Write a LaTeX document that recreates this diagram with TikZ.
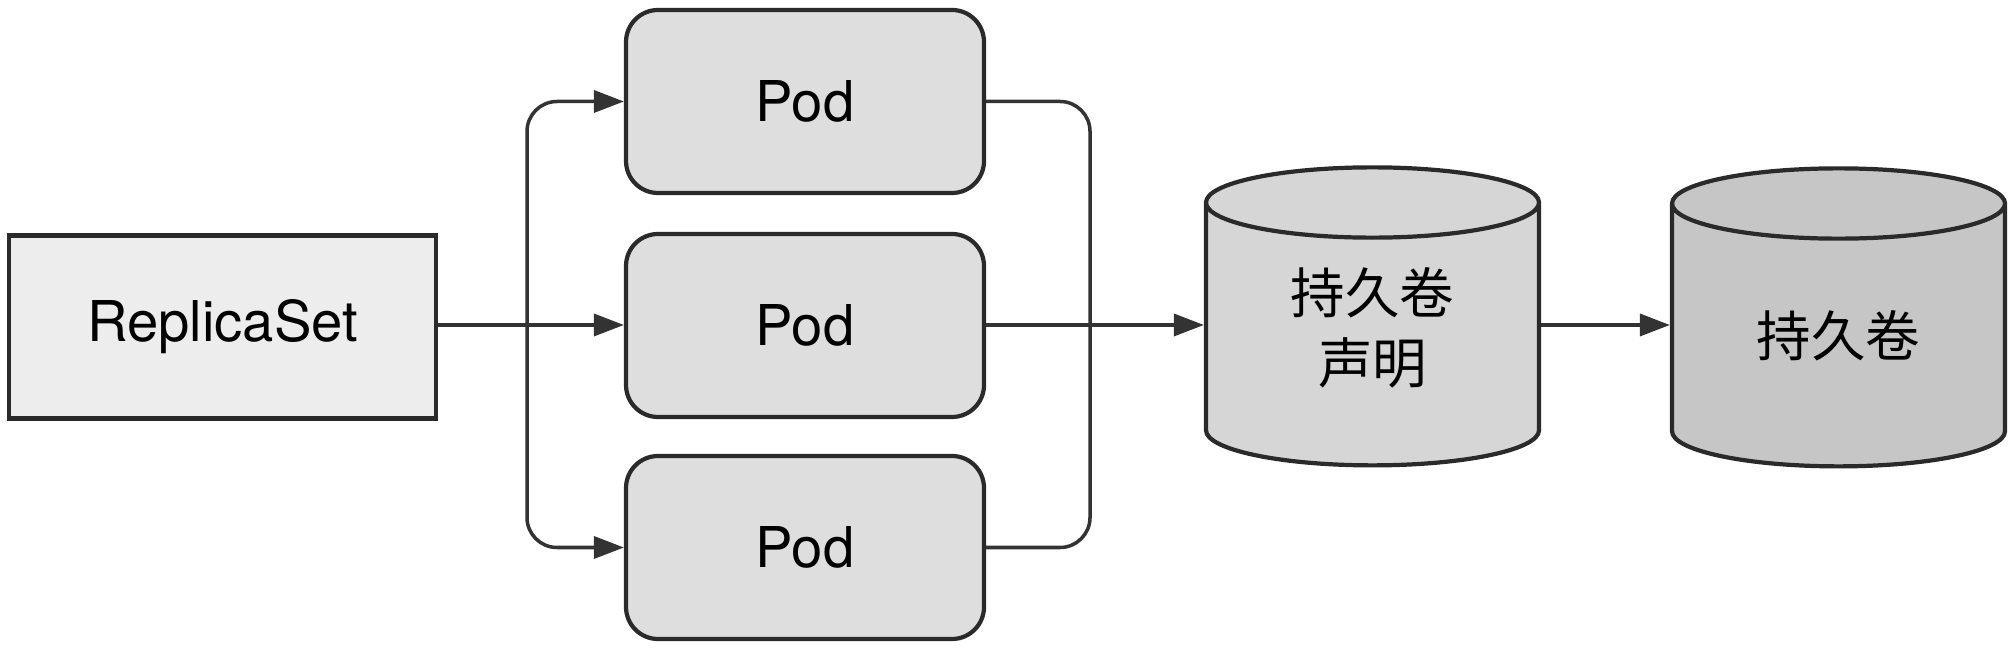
\documentclass[tikz,border=0pt]{standalone}
\usepackage{fontspec}
\setmainfont{TeX Gyre Heros}
\newfontfamily\cjk{Noto Sans CJK SC}
\usetikzlibrary{shapes.geometric,arrows.meta}

\definecolor{edgegray}{HTML}{2A2A2A}
\definecolor{linegray}{HTML}{333333}
\definecolor{rsfill}{HTML}{EDEDED}
\definecolor{podfill}{HTML}{DEDEDE}
\definecolor{pvcfill}{HTML}{D6D6D6}
\definecolor{pvfill}{HTML}{C6C6C6}

\begin{document}
\begin{tikzpicture}[
  box/.style={draw=edgegray, line width=1.2pt, minimum width=4.27cm, minimum height=1.83cm, font=\fontsize{16}{19}\selectfont},
  podbox/.style={box, fill=podfill, rounded corners=0.32cm, minimum width=3.58cm},
  vol/.style={draw=edgegray, line width=1.2pt, cylinder, shape border rotate=90, aspect=0.43, minimum width=3.33cm, minimum height=2.98cm, inner sep=0pt, font=\cjk\fontsize{15.5}{19}\selectfont},
  link/.style={draw=linegray, line width=1pt},
  tip/.style={link, -{Triangle[length=3mm,width=2.2mm]}},
]
  \useasboundingbox (0,0) rectangle (20.16,6.5);

  \node[box, fill=rsfill] (rs) at (2.225,3.23) {ReplicaSet};
  \node[podbox] (pod1) at (8.05,5.485) {Pod};
  \node[podbox] (pod2) at (8.05,3.245) {Pod};
  \node[podbox] (pod3) at (8.05,1.025) {Pod};

  \node[vol, fill=pvcfill] (pvc) at (13.725,3.15)
    {\raisebox{-4.6mm}{\begin{tabular}{@{}c@{}}持久卷\\[1pt]声明\end{tabular}}};
  \node[vol, fill=pvfill] (pv) at (18.385,3.14) {\raisebox{-4mm}{持久卷}};

  % fan out
  \coordinate (split) at (5.27,3.25);
  \draw[tip] (rs.east |- split) -- (pod2.west |- split);
  \draw[tip, rounded corners=0.3cm] (split) |- (pod1.west);
  \draw[tip, rounded corners=0.3cm] (split) |- (pod3.west);

  % join
  \coordinate (merge) at (10.90,3.25);
  \draw[link, rounded corners=0.3cm] (pod1.east) -| (merge);
  \draw[link, rounded corners=0.3cm] (pod3.east) -| (merge);
  \draw[tip] (pod2.east |- merge) -- (pvc.west |- merge);

  \draw[tip] (pvc.east |- merge) -- (pv.west |- merge);
\end{tikzpicture}
\end{document}
